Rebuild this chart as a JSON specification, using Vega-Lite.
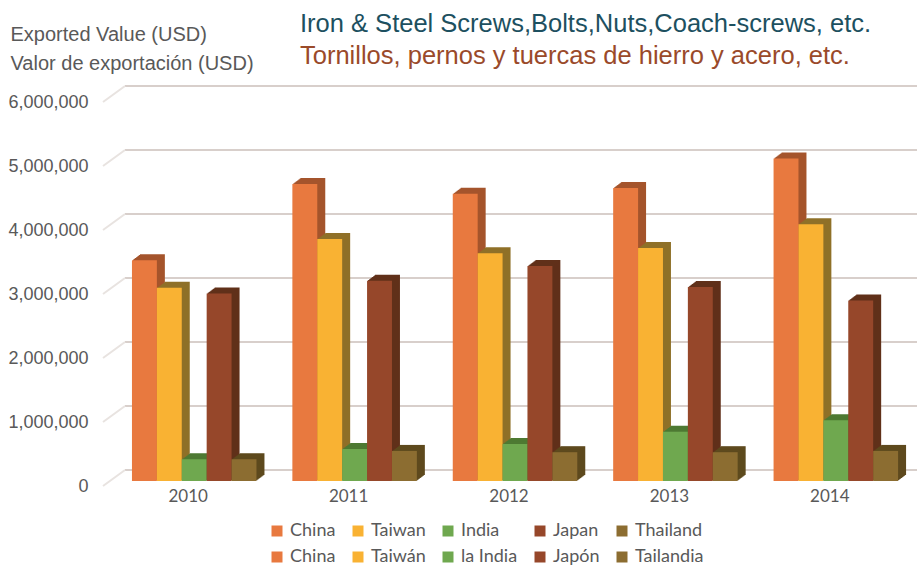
{
"$schema":"https://vega.github.io/schema/vega-lite/v6.json",
"width":814,"height":384,
"autosize":{"type":"none"},
"padding":{"left":103,"top":97,"right":0,"bottom":84},
"background":"white",
"config":{"view":{"stroke":null}},
"title":{"text":"Iron & Steel Screws,Bolts,Nuts,Coach-screws, etc.","subtitle":"Tornillos, pernos y tuercas de hierro y acero, etc.","anchor":"start","frame":"group","dx":197,"dy":58,"offset":13,"font":"Liberation Sans","fontSize":25.5,"fontWeight":"normal","color":"#1d5060","subtitleFont":"Liberation Sans","subtitleFontSize":25.5,"subtitleColor":"#9a4a2a","subtitlePadding":6},
"datasets":{
"grid":[{"v":0},{"v":1000000},{"v":2000000},{"v":3000000},{"v":4000000},{"v":5000000},{"v":6000000}],
"bars":[
{"year":"2010","country":"China","value":3450000},{"year":"2010","country":"Taiwan","value":3020000},{"year":"2010","country":"India","value":340000},{"year":"2010","country":"Japan","value":2930000},{"year":"2010","country":"Thailand","value":340000},
{"year":"2011","country":"China","value":4640000},{"year":"2011","country":"Taiwan","value":3780000},{"year":"2011","country":"India","value":500000},{"year":"2011","country":"Japan","value":3130000},{"year":"2011","country":"Thailand","value":470000},
{"year":"2012","country":"China","value":4490000},{"year":"2012","country":"Taiwan","value":3560000},{"year":"2012","country":"India","value":580000},{"year":"2012","country":"Japan","value":3360000},{"year":"2012","country":"Thailand","value":450000},
{"year":"2013","country":"China","value":4580000},{"year":"2013","country":"Taiwan","value":3640000},{"year":"2013","country":"India","value":770000},{"year":"2013","country":"Japan","value":3030000},{"year":"2013","country":"Thailand","value":450000},
{"year":"2014","country":"China","value":5040000},{"year":"2014","country":"Taiwan","value":4010000},{"year":"2014","country":"India","value":950000},{"year":"2014","country":"Japan","value":2820000},{"year":"2014","country":"Thailand","value":470000}
]},
"resolve":{"scale":{"x":"independent"}},
"layer":[
{"data":{"name":"grid"},
"mark":{"type":"rule","color":"#d8cfcb","strokeWidth":2,"yOffset":-11},
"encoding":{"x":{"datum":0.027,"type":"quantitative","scale":{"domain":[0,1],"range":[0,814]},"axis":null},"x2":{"datum":1},"y":{"field":"v","type":"quantitative","title":["Exported Value (USD)","Valor de exportación (USD)"],"scale":{"domain":[0,6000000],"nice":false},"axis":{"titleAngle":0,"titleAlign":"left","titleBaseline":"alphabetic","titleX":-93,"titleY":-57,"titleFont":"Liberation Sans","titleFontSize":20,"titleFontWeight":"normal","titleColor":"#595959","titleLineHeight":29,"grid":false,"domain":false,"ticks":false,"labelFont":"Liberation Sans","labelFontSize":18,"labelColor":"#595959","labelPadding":15,"labelOffset":5,"format":",d","values":[0,1000000,2000000,3000000,4000000,5000000,6000000]}}}},
{"data":{"name":"grid"},
"mark":{"type":"rule","color":"#e8e3e0","strokeWidth":2,"yOffset":5,"y2Offset":-11},
"encoding":{"x":{"datum":0,"type":"quantitative","scale":{"domain":[0,1],"range":[0,814]},"axis":null},"x2":{"datum":0.027},"y":{"field":"v","type":"quantitative","scale":{"domain":[0,6000000],"nice":false},"title":["Exported Value (USD)","Valor de exportación (USD)"]},"y2":{"field":"v"}}},
{"data":{"name":"bars"},
"encoding":{
"x":{"field":"year","type":"nominal","scale":{"range":[5,807],"paddingInner":0.224,"paddingOuter":0.112},"axis":{"title":null,"domain":false,"ticks":false,"labelAngle":0,"labelFont":"Lato","labelFontSize":17,"labelColor":"#595959","labelPadding":7}},
"y":{"field":"value","type":"quantitative","scale":{"domain":[0,6000000],"nice":false},"title":["Exported Value (USD)","Valor de exportación (USD)"]}
},
"resolve":{"scale":{"xOffset":"independent"}},
"layer":[
{"mark":{"type":"bar","yOffset":-6,"y2Offset":-6},"encoding":{"xOffset":{"field":"country","type":"nominal","sort":["China","Taiwan","India","Japan","Thailand"],"scale":{"range":[14,138.5],"paddingInner":0,"paddingOuter":0}},"fill":{"field":"country","scale":{"domain":["China","Taiwan","India","Japan","Thailand"],"range":["#a5552c","#8f7028","#4e7a33","#60301a","#5e4a1e"]},"legend":null}}},
{"mark":{"type":"bar","yOffset":-5.25,"y2Offset":-5.25},"encoding":{"xOffset":{"field":"country","type":"nominal","sort":["China","Taiwan","India","Japan","Thailand"],"scale":{"range":[13,137.5],"paddingInner":0,"paddingOuter":0}},"fill":{"field":"country","scale":{"domain":["China","Taiwan","India","Japan","Thailand"],"range":["#a5552c","#8f7028","#4e7a33","#60301a","#5e4a1e"]},"legend":null}}},
{"mark":{"type":"bar","yOffset":-4.5,"y2Offset":-4.5},"encoding":{"xOffset":{"field":"country","type":"nominal","sort":["China","Taiwan","India","Japan","Thailand"],"scale":{"range":[12,136.5],"paddingInner":0,"paddingOuter":0}},"fill":{"field":"country","scale":{"domain":["China","Taiwan","India","Japan","Thailand"],"range":["#a5552c","#8f7028","#4e7a33","#60301a","#5e4a1e"]},"legend":null}}},
{"mark":{"type":"bar","yOffset":-3.75,"y2Offset":-3.75},"encoding":{"xOffset":{"field":"country","type":"nominal","sort":["China","Taiwan","India","Japan","Thailand"],"scale":{"range":[11,135.5],"paddingInner":0,"paddingOuter":0}},"fill":{"field":"country","scale":{"domain":["China","Taiwan","India","Japan","Thailand"],"range":["#a5552c","#8f7028","#4e7a33","#60301a","#5e4a1e"]},"legend":null}}},
{"mark":{"type":"bar","yOffset":-3,"y2Offset":-3},"encoding":{"xOffset":{"field":"country","type":"nominal","sort":["China","Taiwan","India","Japan","Thailand"],"scale":{"range":[10,134.5],"paddingInner":0,"paddingOuter":0}},"fill":{"field":"country","scale":{"domain":["China","Taiwan","India","Japan","Thailand"],"range":["#a5552c","#8f7028","#4e7a33","#60301a","#5e4a1e"]},"legend":null}}},
{"mark":{"type":"bar","yOffset":-2.25,"y2Offset":-2.25},"encoding":{"xOffset":{"field":"country","type":"nominal","sort":["China","Taiwan","India","Japan","Thailand"],"scale":{"range":[9,133.5],"paddingInner":0,"paddingOuter":0}},"fill":{"field":"country","scale":{"domain":["China","Taiwan","India","Japan","Thailand"],"range":["#a5552c","#8f7028","#4e7a33","#60301a","#5e4a1e"]},"legend":null}}},
{"mark":{"type":"bar","yOffset":-1.5,"y2Offset":-1.5},"encoding":{"xOffset":{"field":"country","type":"nominal","sort":["China","Taiwan","India","Japan","Thailand"],"scale":{"range":[8,132.5],"paddingInner":0,"paddingOuter":0}},"fill":{"field":"country","scale":{"domain":["China","Taiwan","India","Japan","Thailand"],"range":["#a5552c","#8f7028","#4e7a33","#60301a","#5e4a1e"]},"legend":null}}},
{"mark":{"type":"bar","yOffset":-0.75,"y2Offset":-0.75},"encoding":{"xOffset":{"field":"country","type":"nominal","sort":["China","Taiwan","India","Japan","Thailand"],"scale":{"range":[7,131.5],"paddingInner":0,"paddingOuter":0}},"fill":{"field":"country","scale":{"domain":["China","Taiwan","India","Japan","Thailand"],"range":["#a5552c","#8f7028","#4e7a33","#60301a","#5e4a1e"]},"legend":null}}},
{"mark":{"type":"bar"},"encoding":{"xOffset":{"field":"country","type":"nominal","sort":["China","Taiwan","India","Japan","Thailand"],"scale":{"range":[6,130.5],"paddingInner":0,"paddingOuter":0}},"color":{"field":"country","type":"nominal","scale":{"domain":["China","Taiwan","India","Japan","Thailand","China ","Taiwán","la India","Japón","Tailandia"],"range":["#e8793f","#f9b233","#6fa84f","#96472a","#8c6d31","#e8793f","#f9b233","#6fa84f","#96472a","#8c6d31"]},"legend":{"title":null,"orient":"none","direction":"horizontal","legendX":165,"legendY":425,"columns":5,"symbolType":"square","symbolSize":121,"symbolStrokeWidth":0,"symbolOpacity":1,"labelFont":"Lato","labelFontSize":18,"labelColor":"#595959","labelOffset":4,"columnPadding":13,"rowPadding":8,"gridAlign":"each"}}}}
]}
]
}
